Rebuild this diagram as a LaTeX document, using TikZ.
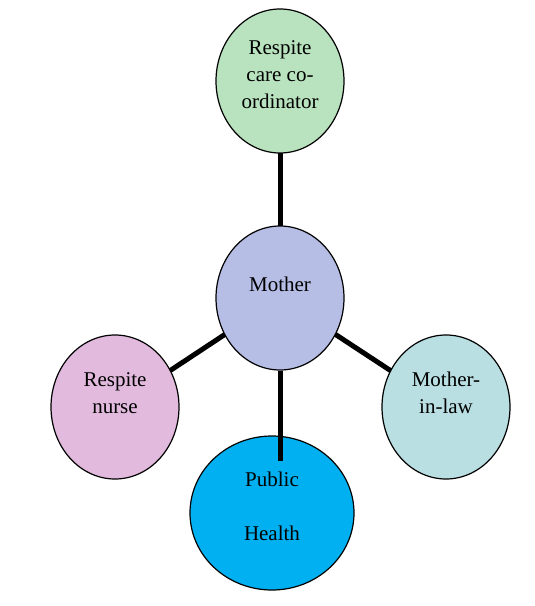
\documentclass[tikz,border=0pt]{standalone}
\usepackage{fontspec}
\setmainfont{Liberation Serif}
\usetikzlibrary{shapes.geometric}
\pgfdeclarelayer{background}
\pgfsetlayers{background,main}
\definecolor{cgreen}{RGB}{185,227,190}
\definecolor{cmother}{RGB}{182,190,230}
\definecolor{cnurse}{RGB}{226,186,222}
\definecolor{claw}{RGB}{185,223,227}
\definecolor{cpublic}{RGB}{0,176,240}
\tikzset{
  ell/.style={ellipse, draw=black, line width=1.2pt, inner sep=0pt,
    minimum width=128pt, minimum height=144pt},
  txt/.style={align=center, inner sep=0pt,
    font=\fontsize{21}{27}\selectfont},
  conn/.style={line width=5pt, black}
}
\begin{document}
\begin{tikzpicture}[x=1pt,y=-1pt]
\useasboundingbox (0,0) rectangle (535,606);
% ellipses
\node[ell, fill=cgreen] (coord) at (280,81) {};
\node[ell, fill=cnurse] (nurse) at (115,407) {};
\node[ell, fill=claw] (law) at (446,407) {};
\node[ell, fill=cpublic, minimum width=164pt, minimum height=154pt] (public) at (272,513) {};
\node[ell, fill=cmother] (mother) at (280,298) {};
% connectors
\begin{pgfonlayer}{background}
\draw[conn] (coord.center) -- (mother.center);
\draw[conn] (mother.center) -- (nurse.center);
\draw[conn] (mother.center) -- (law.center);
\end{pgfonlayer}
\coordinate (pend) at ([yshift=-26pt]public.north);
\draw[conn] (mother.south) -- (mother.south |- pend);
% texts
\node[txt] (tcoord) at ([yshift=6pt]coord.center) {Respite\\care co-\\ordinator};
\node[txt] (tmother) at ([yshift=14pt]mother.center) {Mother};
\node[txt] (tnurse) at ([yshift=14pt]nurse.center) {Respite\\nurse};
\node[txt] (tlaw) at ([yshift=14pt]law.center) {Mother-\\in-law};
\node[txt] (tpublic) at ([yshift=6.5pt]public.center) {Public\\[27pt]Health};
\end{tikzpicture}
\end{document}
